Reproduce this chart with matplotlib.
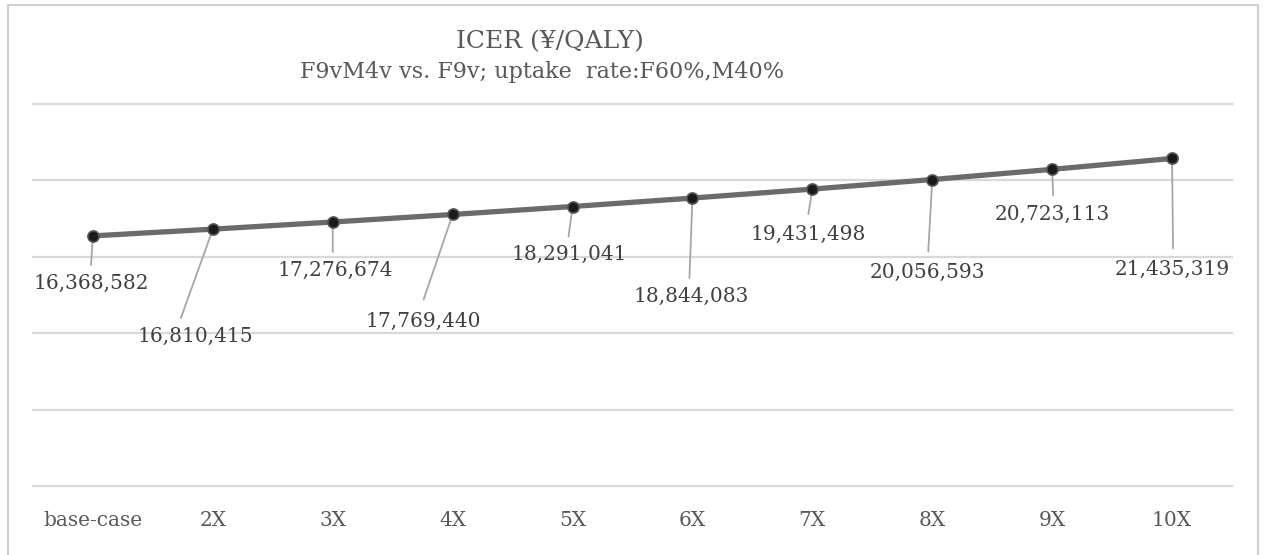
import matplotlib.pyplot as plt
from matplotlib.patches import Rectangle

categories = ['base-case', '2X', '3X', '4X', '5X', '6X', '7X', '8X', '9X', '10X']
icer = [16368582, 16810415, 17276674, 17769440, 18291041,
        18844083, 19431498, 20056593, 20723113, 21435319]

# label placement (pixel offsets from each point): leader end, text centre
leader_off = [(-2, -29), (-32, -89), (0, -30), (-29, -85), (-4, -30),
              (-3, -80), (-4, -25), (-4, -72), (1, -26), (1, -90)]
text_off = [(-1.5, -48), (-17.5, -107), (2, -48), (-29.5, -107), (-3.5, -48),
            (-1, -98), (-4.5, -45), (-4.5, -93), (0, -45), (0, -111)]

plt.rcParams['font.family'] = ['DejaVu Serif']

fig = plt.figure(figsize=(12.66, 5.55), dpi=100)
ax = fig.add_axes([33 / 1266, 69 / 555, 1199 / 1266, 382 / 555])

x = list(range(len(categories)))
ax.plot(x, icer, color='#6b6b6b', lw=3.8, zorder=3, solid_capstyle='round')
ax.plot(x, icer, 'o', ms=8, mfc='#1a1a1a', mec='#555555', mew=1.2, zorder=4)

for i, v in enumerate(icer):
    ax.annotate('', xy=(i, v), xytext=leader_off[i], textcoords='offset pixels',
                arrowprops=dict(arrowstyle='-', color='#a6a6a6', lw=1.3,
                                shrinkA=0, shrinkB=0), zorder=2)
    ax.annotate(f'{v:,}', xy=(i, v), xytext=text_off[i], textcoords='offset pixels',
                ha='center', va='center', fontsize=14.5, color='#404040', zorder=5)

ax.set_xlim(-0.5, 9.5)
ax.set_ylim(0, 25000000)
ax.set_yticks([0, 5e6, 10e6, 15e6, 20e6, 25e6])
ax.set_yticklabels([])
ax.grid(axis='y', color='#d9d9d9', lw=1.6)
for gl in ax.get_ygridlines():
    gl.set_clip_on(False)
ax.set_axisbelow(True)
ax.set_xticks(x)
ax.set_xticklabels(categories, fontsize=14.5, color='#595959')
ax.tick_params(length=0, pad=18)
for s in ax.spines.values():
    s.set_visible(False)

fig.text(550 / 1266, 1 - 42 / 555, 'ICER (¥/QALY)', ha='center', va='center',
         fontsize=18, color='#595959')
fig.text(542 / 1266, 1 - 72 / 555, 'F9vM4v vs. F9v; uptake  rate:F60%,M40%',
         ha='center', va='center', fontsize=16, color='#595959')

fig.patches.append(Rectangle((8 / 1266, -0.1), 1250 / 1266, 1.1 - 5 / 555,
                             transform=fig.transFigure, fill=False,
                             ec='#d0d0d0', lw=1.5))

fig.savefig('out.png', dpi=100)
